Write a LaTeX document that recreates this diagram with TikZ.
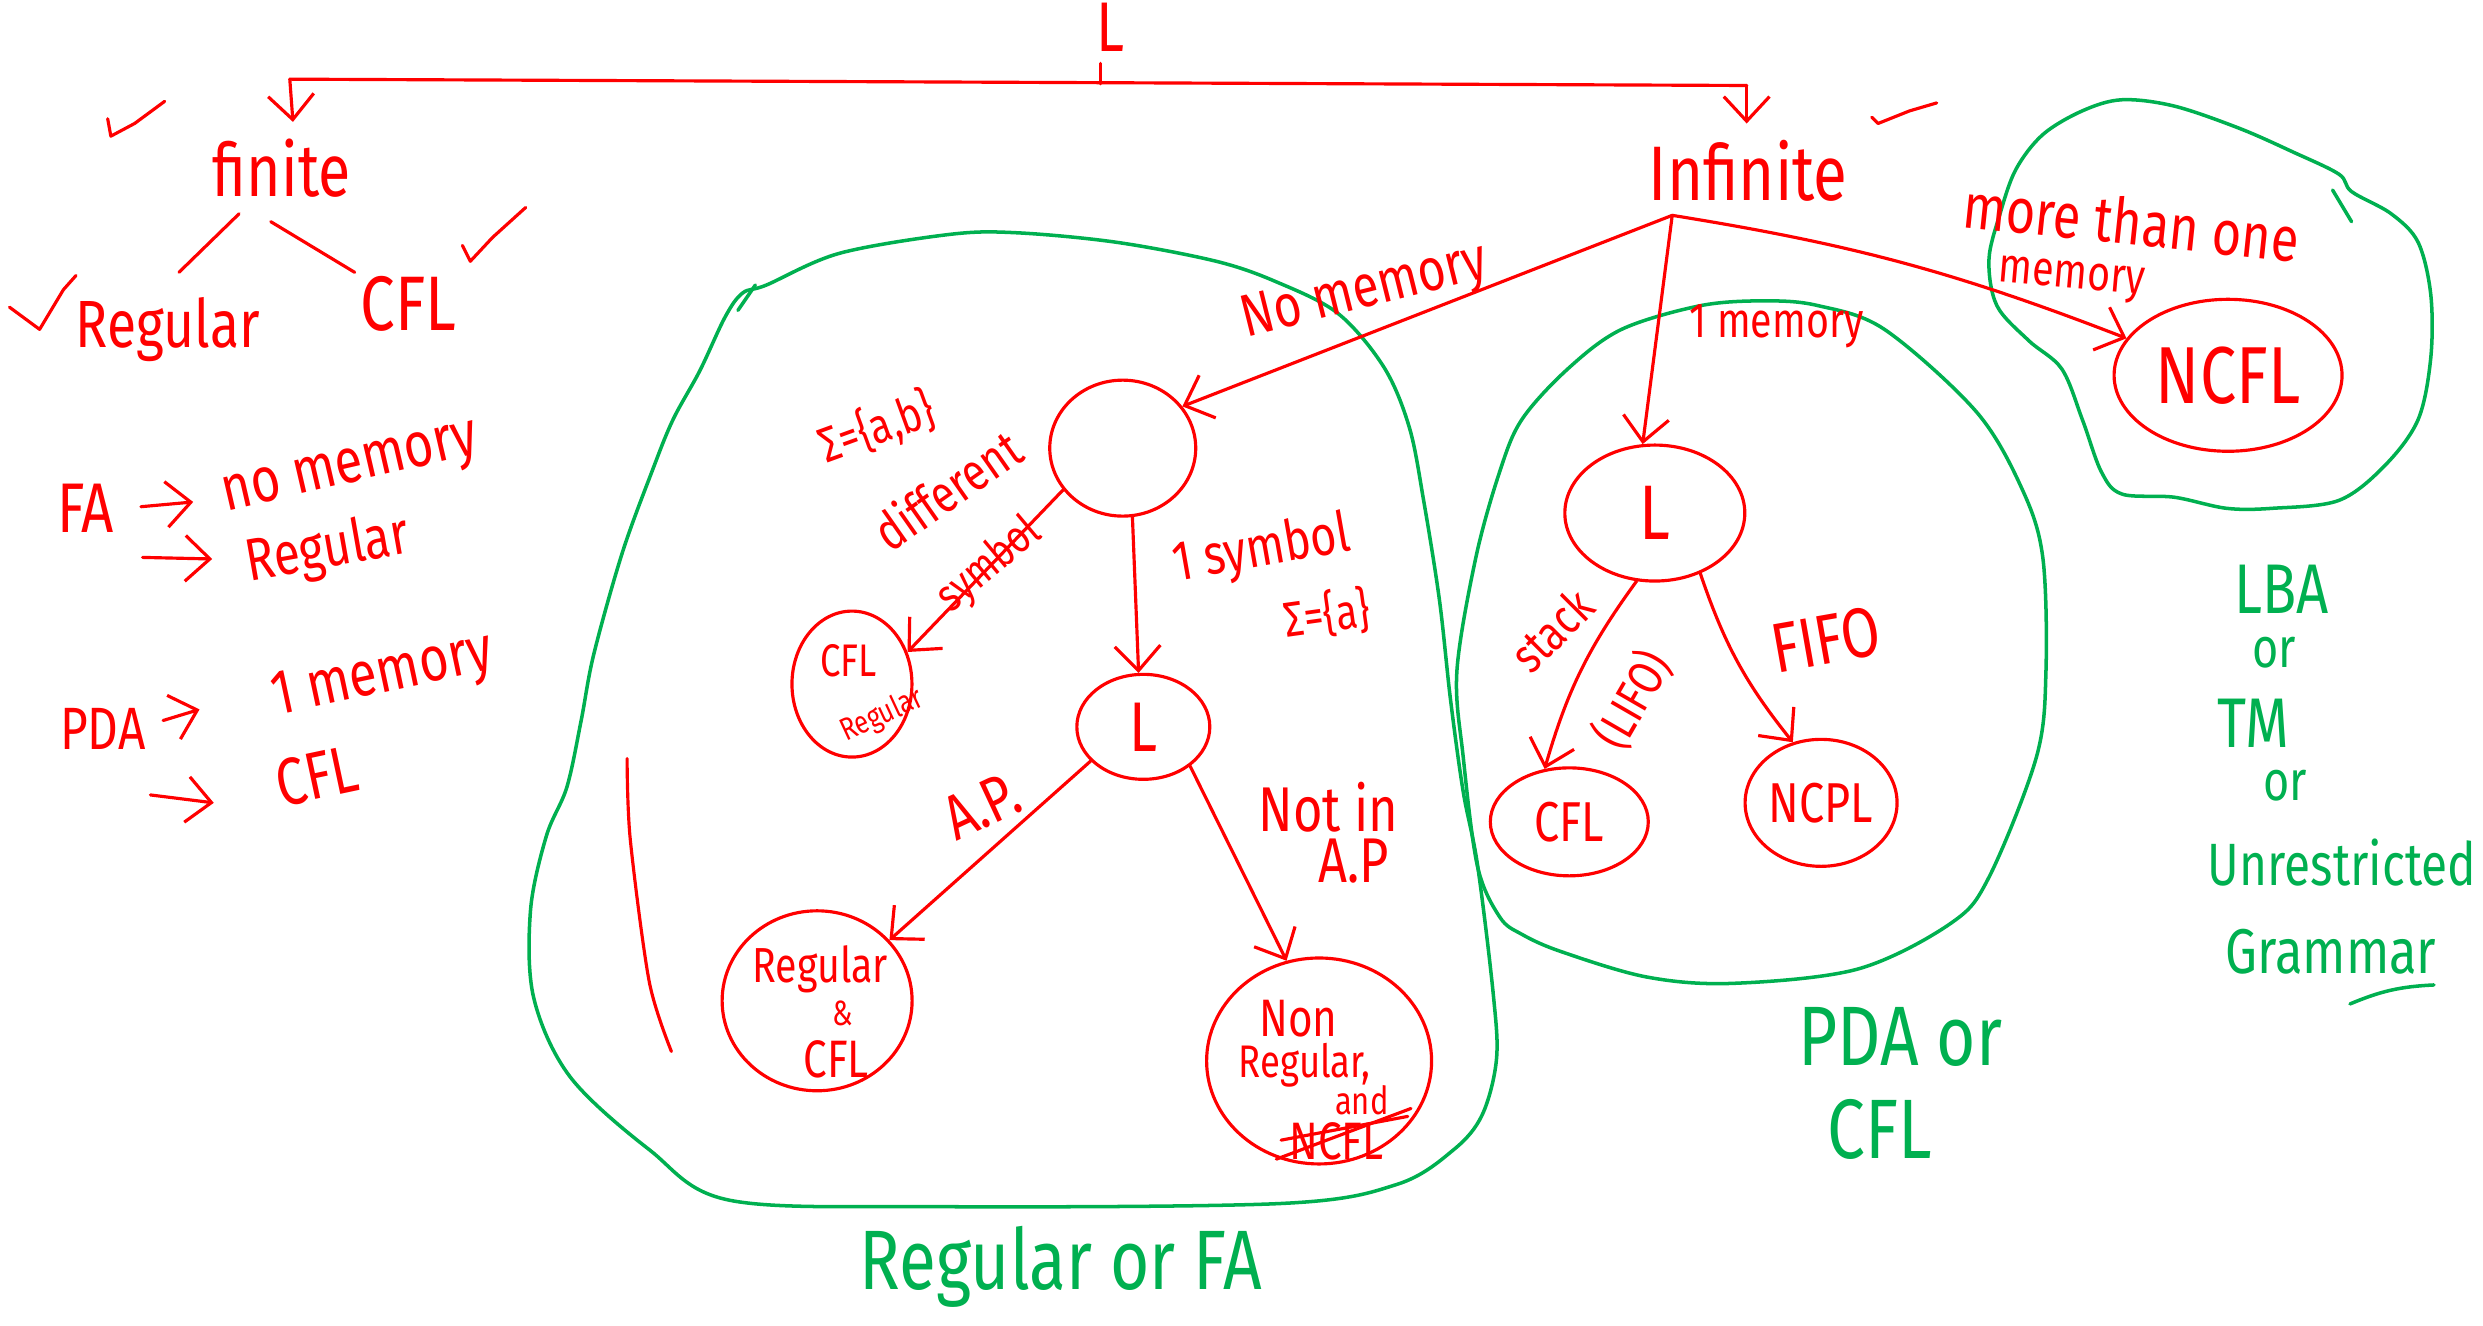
\documentclass[tikz,border=0pt]{standalone}
\usepackage{fontspec}
\setmainfont{Fira Sans}
\newfontfamily\hand[FakeStretch=0.8]{Fira Sans}
\usetikzlibrary{arrows.meta,shapes.geometric}
\definecolor{pen}{HTML}{FF0000}
\definecolor{grn}{HTML}{00B050}
\newcommand\hsz[1]{\fontsize{#1}{#1}\selectfont}
\begin{document}
\begin{tikzpicture}[x=0.015835cm,y=-0.015835cm,
  rt/.style={text=pen,font=\hand,inner sep=0pt},
  gt/.style={text=grn,font=\hand,inner sep=0pt},
  blob/.style={ellipse,draw=pen,line width=0.9pt,inner sep=0pt},
  pl/.style={draw=pen,line width=0.9pt,line cap=round,line join=round},
  link/.style={pl,-{Straight Barb[length=7pt,width=13pt,line width=0.9pt]}},
  region/.style={draw=grn,line width=1pt,line cap=round}]
\fill[white] (0,0) rectangle (1568,837);
\useasboundingbox (0,0) rectangle (1568,837);

% ---- top level
\node[rt,font=\hand\hsz{20}] (Ltop) at (701,17) {L};
\node[rt,font=\hand\hsz{21}] (finite) at (178,106) {finite};
\node[rt,font=\hand\hsz{22}] (infinite) at (1104,108) {Infinite};
\coordinate (brL) at (183,50);
\coordinate (brR) at (1103,54);
\coordinate (tkT) at (695,40);
\coordinate (tkB) at (695,53);
\coordinate (fTip) at (185,77);
\coordinate (iTip) at (1103,78);
\draw[pl] (brL) -- (brR);
\draw[pl] (tkT) -- (tkB);
\draw[link] (brL) -- (fTip);
\draw[link] (brR) -- (iTip);

\node[rt,font=\hand\hsz{19}] (regular) at (106,208) {Regular};
\node[rt,font=\hand\hsz{22}] (cfl) at (258,192) {CFL};
\coordinate (fl1) at (151,135);
\coordinate (fl2) at (113,172);
\coordinate (fr1) at (171,140);
\coordinate (fr2) at (224,172);
\draw[pl] (fl1) -- (fl2);
\draw[pl] (fr1) -- (fr2);

% checkmarks
\draw[pl] (68,75) -- (70,86) -- (85,78) -- (104,64);
\draw[pl] (292,155) -- (297,165) -- (311,150) -- (332,131);
\draw[pl] (6,194) -- (25,208) -- (40,183) -- (48,174);
\draw[pl] (1182,74) -- (1186,78) -- (1206,70) -- (1223,65);

% ---- left notes
\node[rt,font=\hand\hsz{20}] (fa) at (54,321) {FA};
\node[rt,font=\hand\hsz{18},rotate=13] (nomem) at (222,298) {no memory};
\coordinate (a1s) at (89,320);
\coordinate (a1e) at (122,317);
\draw[link] (a1s) -- (a1e);
\node[rt,font=\hand\hsz{17},rotate=10] (regn) at (207,348) {Regular};
\coordinate (a2s) at (90,352);
\coordinate (a2e) at (134,353);
\draw[link] (a2s) -- (a2e);
\node[rt,font=\hand\hsz{17}] (pda) at (65,460) {PDA};
\coordinate (a3s) at (103,455);
\coordinate (a3e) at (126,448);
\draw[link] (a3s) -- (a3e);
\node[rt,font=\hand\hsz{18},rotate=12] (onemem) at (242,428) {1 memory};
\node[rt,font=\hand\hsz{19},rotate=12] (cfln) at (200,490) {CFL};
\coordinate (a4s) at (95,502);
\coordinate (a4e) at (135,507);
\draw[link] (a4s) -- (a4e);

\draw[pl] plot[smooth] coordinates {(396,479) (398,530) (410,620) (424,664)};

% ---- region 1 (Regular or FA)
\draw[region] plot[smooth cycle,tension=0.55] coordinates {(484,180) (530,160) (600,148) (642,147) (705,153) (768,165) (806,178) (845,198) (874,232) (890,270) (899,316) (909,379) (916,442) (924,500) (933,546) (943,628) (945,669) (936,704) (918,726) (882,748) (809,760) (592,762) (461,758) (410,726) (360,680) (337,630) (335,575) (345,528) (358,497) (367,455) (375,413) (393,349) (412,297) (425,265) (442,234) (458,200) (469,185)};
\draw[region] (466,196) -- (477,180);
\node[gt,font=\hand\hsz{24}] (regfa) at (670,800) {Regular or FA};

\node[blob,minimum width=1.46cm,minimum height=1.36cm] (c1) at (709,283) {};
\node[rt,font=\hand\hsz{14},rotate=20] (sigab) at (554,270) {Σ=\{a,b\}};
\node[rt,font=\hand\hsz{15},rotate=35] (diff) at (598,309) {different};
\node[rt,font=\hand\hsz{13},rotate=40] (symb) at (625,357) {symbol};
\node[rt,font=\hand\hsz{17},rotate=14] (nomem2) at (862,185) {No memory};

\node[blob,minimum width=1.20cm,minimum height=1.46cm] (cfr) at (538,432) {};
\node[rt,font=\hand\hsz{13}] (cfrt) at (536,417) {CFL};
\node[rt,font=\hand\hsz{9},rotate=25] (cfrr) at (557,452) {Regular};

\node[rt,font=\hand\hsz{16},rotate=10] (onesym) at (797,348) {1 symbol};
\node[rt,font=\hand\hsz{14},rotate=8] (siga) at (838,388) {Σ=\{a\}};

\node[blob,rt,minimum width=1.33cm,minimum height=1.05cm,font=\hand\hsz{20}] (L1) at (722,459) {L};

\node[rt,font=\hand\hsz{18},rotate=25] (ap) at (620,509) {A.P.};
\node[blob,minimum width=1.90cm,minimum height=1.80cm] (rc) at (516,632) {};
\node[rt,font=\hand\hsz{14}] (rct1) at (518,612) {Regular};
\node[rt,font=\hand\hsz{10}] (rct2) at (532,640) {\&};
\node[rt,font=\hand\hsz{15}] (rct3) at (528,669) {CFL};

\node[rt,font=\hand\hsz{18}] (notin) at (839,510) {Not in};
\node[rt,font=\hand\hsz{18}] (ap2) at (855,544) {A.P};
\node[blob,minimum width=2.25cm,minimum height=2.06cm] (nr) at (833,670) {};
\node[rt,font=\hand\hsz{15}] (nrt1) at (820,643) {Non};
\node[rt,font=\hand\hsz{13}] (nrt2) at (824,673) {Regular,};
\node[rt,font=\hand\hsz{11}] (nrt3) at (860,695) {and};
\node[rt,font=\hand\hsz{15}] (nrt4) at (844,721) {NCFL};
\coordinate (s1a) at (806,732);
\coordinate (s1b) at (891,700);
\coordinate (s2a) at (809,720);
\coordinate (s2b) at (889,705);
\draw[pl] (s1a) -- (s1b);
\draw[pl] (s2a) -- (s2b);

% ---- region 2 (PDA or CFL)
\draw[region] plot[smooth cycle,tension=0.55] coordinates {(932,352) (947,298) (961,265) (990,233) (1024,208) (1074,193) (1115,190) (1148,193) (1190,208) (1248,260) (1277,309) (1290,352) (1292,424) (1286,478) (1256,554) (1232,583) (1173,612) (1094,621) (1040,617) (986,601) (961,590) (947,579) (933,547) (924,478) (920,424)};
\node[rt,font=\hand\hsz{14}] (onemem2) at (1122,206) {1 memory};
\node[blob,rt,minimum width=1.80cm,minimum height=1.36cm,font=\hand\hsz{22}] (L2) at (1045,324) {L};
\node[rt,font=\hand\hsz{14},rotate=45] (stack) at (980,398) {stack};
\node[rt,font=\hand\hsz{14},rotate=60] (lifo) at (1031,442) {(LIFO)};
\node[rt,font=\hand\hsz{20},rotate=10] (fifo) at (1153,404) {FIFO};
\node[blob,rt,minimum width=1.58cm,minimum height=1.08cm,font=\hand\hsz{16}] (cfl2) at (991,519) {CFL};
\node[blob,rt,minimum width=1.52cm,minimum height=1.27cm,font=\hand\hsz{16}] (ncpl) at (1150,507) {NCPL};
\node[gt,font=\hand\hsz{24}] (pdaor) at (1200,655) {PDA or};
\node[gt,font=\hand\hsz{24}] (cflg) at (1187,713) {CFL};

% ---- region 3
\draw[region] plot[smooth cycle,tension=0.55] coordinates {(1340,63) (1373,67) (1414,81) (1448,96) (1477,110) (1485,121) (1510,135) (1527,153) (1535,186) (1535,226) (1527,265) (1506,294) (1477,316) (1435,321) (1406,321) (1373,314) (1340,312) (1327,298) (1315,265) (1302,233) (1281,215) (1261,193) (1256,164) (1263,135) (1273,107) (1290,85) (1315,70)};
\draw[region] (1473,120) -- (1485,140);
\node[rt,font=\hand\hsz{18},rotate=-6] (more) at (1346,140) {more than one};
\node[rt,font=\hand\hsz{14},rotate=-5] (mem3) at (1308,177) {memory};
\node[blob,rt,minimum width=2.28cm,minimum height=1.52cm,font=\hand\hsz{23}] (ncfl) at (1407,237) {NCFL};

% ---- right green notes
\node[gt,font=\hand\hsz{20}] (lba) at (1441,372) {LBA};
\node[gt,font=\hand\hsz{16}] (or1) at (1436,412) {or};
\node[gt,font=\hand\hsz{20}] (tm) at (1423,457) {TM};
\node[gt,font=\hand\hsz{16}] (or2) at (1443,496) {or};
\node[gt,font=\hand\hsz{17}] (unr) at (1479,545) {Unrestricted};
\node[gt,font=\hand\hsz{18}] (gram) at (1472,601) {Grammar};
\coordinate (ul1) at (1484,634);
\coordinate (ul2) at (1537,622);
\draw[region] (ul1) to[bend left=10] (ul2);

% ---- connectors
\coordinate (inf0) at (1056,136);
\draw[link] (inf0) -- (c1.35);
\draw[link] (inf0) -- (L2.100);
\draw[link] (inf0) to[bend left=6] (ncfl.160);
\draw[link] (c1.215) -- (cfr.30);
\draw[link] (c1.-82) -- (L1.95);
\draw[link] (L1.213) -- (rc.40);
\draw[link] (L1.-40) -- (nr.108);
\draw[link] (L2.255) to[bend right=10] (cfl2.115);
\draw[link] (L2.-53) to[bend right=10] (ncpl.115);
\end{tikzpicture}
\end{document}
